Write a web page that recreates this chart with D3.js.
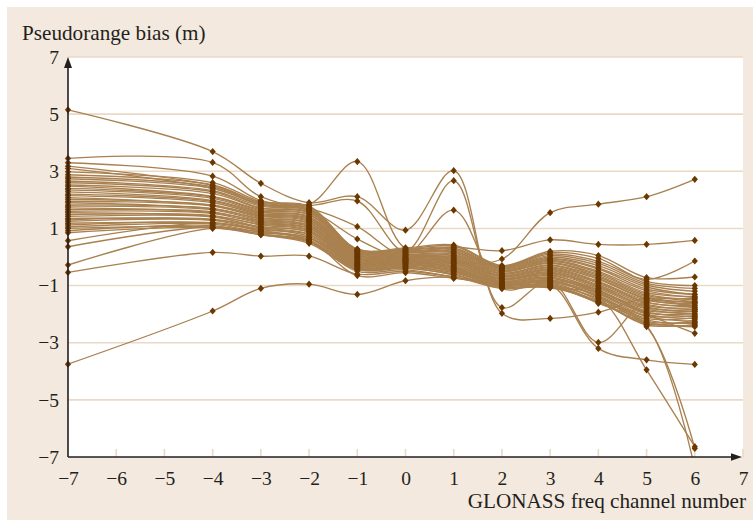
<!DOCTYPE html>
<html>
<head>
<meta charset="utf-8">
<script src="https://cdn.jsdelivr.net/npm/d3@7"></script>
<style>
  body { margin: 0; background: #fff; }
  text { font-family: 'Liberation Serif', 'Times New Roman', serif; fill: #231f20; }
</style>
</head>
<body>
<div class="graph"></div>
<script>
// frequency channels where the receivers were measured
var channels = [-7, -4, -3, -2, -1, 0, 1, 2, 3, 4, 5, 6];
var xTicks = [-7, -6, -5, -4, -3, -2, -1, 0, 1, 2, 3, 4, 5, 6, 7];
var yTicks = [-7, -5, -3, -1, 1, 3, 5, 7];
var gridValues = [-5, -3, -1, 1, 3, 5, 7];

// bias per receiver (m), one row per receiver, one value per channel
var bandSeries = [
  [0.85, 1.02, 0.78, 0.52, -0.44, -0.38, -0.62, -1.05, -1.02, -1.55, -2.38, -2.36],
  [0.92, 1.10, 0.80, 0.58, -0.40, -0.36, -0.55, -1.02, -0.95, -1.58, -2.30, -2.40],
  [1.00, 1.05, 0.88, 0.60, -0.42, -0.30, -0.60, -1.08, -0.98, -1.45, -2.25, -2.28],
  [1.05, 1.15, 0.85, 0.68, -0.35, -0.33, -0.50, -0.98, -0.90, -1.50, -2.35, -2.20],
  [1.12, 1.20, 0.92, 0.66, -0.38, -0.25, -0.52, -1.00, -0.85, -1.40, -2.20, -2.32],
  [1.18, 1.18, 0.98, 0.72, -0.30, -0.28, -0.45, -0.95, -0.88, -1.35, -2.15, -2.12],
  [1.25, 1.28, 0.96, 0.78, -0.33, -0.22, -0.48, -0.92, -0.80, -1.38, -2.08, -2.25],
  [1.30, 1.32, 1.02, 0.80, -0.28, -0.24, -0.40, -0.94, -0.82, -1.30, -2.05, -2.05],
  [1.35, 1.30, 1.06, 0.86, -0.25, -0.18, -0.42, -0.88, -0.75, -1.25, -2.00, -2.15],
  [1.42, 1.40, 1.05, 0.88, -0.27, -0.20, -0.36, -0.90, -0.72, -1.28, -1.95, -1.98],
  [1.48, 1.45, 1.12, 0.92, -0.22, -0.15, -0.38, -0.85, -0.70, -1.20, -1.92, -2.08],
  [1.55, 1.42, 1.15, 0.95, -0.20, -0.16, -0.32, -0.84, -0.65, -1.15, -1.88, -1.90],
  [1.60, 1.52, 1.18, 1.00, -0.18, -0.12, -0.30, -0.80, -0.62, -1.18, -1.82, -2.00],
  [1.66, 1.58, 1.22, 1.02, -0.15, -0.13, -0.26, -0.78, -0.58, -1.10, -1.78, -1.85],
  [1.72, 1.55, 1.25, 1.06, -0.14, -0.08, -0.24, -0.76, -0.55, -1.05, -1.75, -1.92],
  [1.78, 1.65, 1.28, 1.10, -0.10, -0.10, -0.20, -0.74, -0.52, -1.02, -1.70, -1.78],
  [1.82, 1.70, 1.32, 1.12, -0.08, -0.05, -0.18, -0.70, -0.48, -0.98, -1.65, -1.85],
  [1.90, 1.68, 1.35, 1.18, -0.06, -0.06, -0.14, -0.68, -0.45, -0.92, -1.60, -1.70],
  [1.95, 1.78, 1.38, 1.20, -0.03, -0.02, -0.12, -0.66, -0.42, -0.88, -1.58, -1.75],
  [2.02, 1.82, 1.42, 1.24, -0.02, -0.03, -0.08, -0.64, -0.38, -0.85, -1.52, -1.62],
  [2.08, 1.80, 1.45, 1.28, 0.02, 0.01, -0.06, -0.60, -0.35, -0.78, -1.48, -1.68],
  [2.15, 1.90, 1.48, 1.32, 0.03, 0.00, -0.02, -0.58, -0.30, -0.75, -1.45, -1.55],
  [2.20, 1.95, 1.52, 1.35, 0.06, 0.05, 0.00, -0.56, -0.28, -0.70, -1.40, -1.60],
  [2.28, 1.98, 1.56, 1.40, 0.08, 0.04, 0.04, -0.52, -0.22, -0.65, -1.35, -1.45],
  [2.35, 2.05, 1.58, 1.42, 0.10, 0.08, 0.06, -0.50, -0.20, -0.60, -1.30, -1.50],
  [2.40, 2.10, 1.62, 1.48, 0.13, 0.10, 0.10, -0.48, -0.15, -0.55, -1.25, -1.38],
  [2.48, 2.12, 1.66, 1.50, 0.15, 0.14, 0.14, -0.45, -0.12, -0.50, -1.18, -1.42],
  [2.52, 2.22, 1.70, 1.55, 0.17, 0.15, 0.18, -0.42, -0.08, -0.42, -1.12, -1.30],
  [2.60, 2.28, 1.72, 1.58, 0.19, 0.18, 0.20, -0.40, -0.05, -0.38, -1.05, -1.32],
  [2.66, 2.32, 1.78, 1.62, 0.21, 0.20, 0.25, -0.38, 0.00, -0.30, -0.98, -1.20],
  [2.74, 2.40, 1.82, 1.66, 0.23, 0.24, 0.28, -0.36, 0.05, -0.22, -0.92, -1.10],
  [2.80, 2.45, 1.85, 1.70, 0.25, 0.26, 0.32, -0.34, 0.10, -0.15, -0.85, -1.00],
  [2.88, 2.52, 1.90, 1.75, 0.27, 0.28, 0.38, -0.32, 0.15, -0.05, -0.78, -0.14],
  [2.98, 2.60, 1.94, 1.78, 0.28, 0.32, 0.42, -0.30, 0.20, 0.05, -0.72, -0.70]
];

var outlierSeries = [
  [5.15, 3.69, 2.58, 1.90, 2.11, 0.94, 3.02, -1.97, -2.15, -1.93, -1.45, -1.58],
  [3.45, 3.31, 2.11, 1.85, 3.34, 0.30, 0.35, 0.22, 0.60, 0.44, 0.44, 0.58],
  [3.30, 2.83, 1.98, 1.80, 1.96, 0.20, 2.67, -1.77, -0.85, -2.99, -1.55, -1.80],
  [3.18, 2.50, 1.90, 1.70, 1.06, 0.10, 1.64, -1.10, -0.95, -3.20, -3.60, -3.76],
  [3.10, 2.40, 1.85, 1.65, 0.63, -0.10, -0.20, -0.07, 1.55, 1.85, 2.11, 2.72],
  [0.57, 1.20, 0.90, 0.60, -0.65, -0.55, -0.75, -0.95, -1.05, -1.40, -3.95, -6.64],
  [0.36, 1.05, 0.80, 0.55, -0.50, -0.45, -0.70, -1.00, -1.00, -1.62, -2.44, -6.70],
  [-0.28, 1.00, 0.78, 0.48, -0.45, -0.40, -0.62, -1.05, -1.08, -1.55, -2.40, -7.40],
  [-0.54, 0.16, 0.03, 0.03, -0.60, -0.50, -0.70, -0.95, -0.80, -1.20, -2.00, -2.67],
  [-3.75, -1.89, -1.10, -0.95, -1.31, -0.83, -0.72, -1.10, -1.05, -1.60, -2.30, -2.44]
];

var allSeries = bandSeries.concat(outlierSeries);

var width = 753,
    height = 520;
var plotLeft = 68, plotRight = 743, plotTop = 57, plotBottom = 457;

var svg = d3.select('.graph')
  .append('svg')
  .attr('width', width)
  .attr('height', height)
  .style('display', 'block');

svg.append('rect')
  .attr('x', 7).attr('y', 7)
  .attr('width', width - 7).attr('height', height - 7)
  .style('fill', '#f4e9df');

svg.append('rect')
  .attr('x', plotLeft).attr('y', plotTop)
  .attr('width', plotRight - plotLeft).attr('height', plotBottom - plotTop)
  .style('fill', '#fff');

var xScale = d3.scaleLinear().domain([-7, 7]).range([plotLeft, plotRight]);
var yScale = d3.scaleLinear().domain([-7, 7]).range([plotBottom, plotTop]);

// grid
svg.append('g')
  .selectAll('line')
  .data(gridValues)
  .enter()
  .append('line')
  .attr('x1', plotLeft).attr('x2', plotRight)
  .attr('y1', d => yScale(d)).attr('y2', d => yScale(d))
  .style('stroke', '#ead9c6')
  .style('stroke-width', 1.6);

// little ticks standing on the x axis
svg.append('g')
  .selectAll('line')
  .data(xTicks.slice(1))
  .enter()
  .append('line')
  .attr('x1', d => xScale(d)).attr('x2', d => xScale(d))
  .attr('y1', plotBottom).attr('y2', plotBottom - 8)
  .style('stroke', '#ead9c6')
  .style('stroke-width', 1.6);

svg.append('clipPath')
  .attr('id', 'plot-clip')
  .append('rect')
  .attr('x', plotLeft - 5).attr('y', plotTop - 5)
  .attr('width', plotRight - plotLeft + 10).attr('height', plotBottom - plotTop + 5);

var plot = svg.append('g').attr('clip-path', 'url(#plot-clip)');

var line = d3.line()
  .x((d, i) => xScale(channels[i]))
  .y(d => yScale(d))
  .curve(d3.curveCatmullRom.alpha(0.5));

plot.append('g')
  .selectAll('path')
  .data(allSeries)
  .enter()
  .append('path')
  .attr('d', line)
  .style('fill', 'none')
  .style('stroke', '#a9804f')
  .style('stroke-width', 1.35);

var points = [];
allSeries.forEach(s => s.forEach((v, i) => points.push([channels[i], v])));

plot.append('g')
  .selectAll('path')
  .data(points)
  .enter()
  .append('path')
  .attr('d', 'M0,-3.6L3.1,0L0,3.6L-3.1,0Z')
  .attr('transform', d => 'translate(' + xScale(d[0]) + ',' + yScale(d[1]) + ')')
  .style('fill', '#6b3800');

// axes
var xAxis = d3.axisBottom(xScale)
  .tickValues(xTicks)
  .tickSize(0)
  .tickPadding(14)
  .tickFormat(d => d < 0 ? '\u2212' + Math.abs(d) : d);

var xAxisGroup = svg.append('g')
  .attr('id', 'x-axis')
  .attr('transform', 'translate(0,' + plotBottom + ')')
  .call(xAxis);
xAxisGroup.select('.domain').remove();
xAxisGroup.selectAll('text')
  .style('font-size', '19.5px')
  .style('font-family', "'Liberation Serif', serif")
  .style('fill', '#231f20');

var yAxis = d3.axisLeft(yScale)
  .tickValues(yTicks)
  .tickSize(0)
  .tickPadding(9)
  .tickFormat(d => d < 0 ? '\u2212' + Math.abs(d) : d);

var yAxisGroup = svg.append('g')
  .attr('id', 'y-axis')
  .attr('transform', 'translate(' + plotLeft + ',0)')
  .call(yAxis);
yAxisGroup.select('.domain').remove();
yAxisGroup.selectAll('text')
  .style('font-size', '19.5px')
  .style('font-family', "'Liberation Serif', serif")
  .style('fill', '#231f20');

svg.append('line')
  .attr('x1', plotLeft).attr('x2', plotRight - 8)
  .attr('y1', plotBottom).attr('y2', plotBottom)
  .style('stroke', '#231f20').style('stroke-width', 1.6);
svg.append('path')
  .attr('d', 'M' + (plotRight - 1) + ',' + plotBottom + 'l-11,-3.8l0,7.6Z')
  .style('fill', '#231f20');

svg.append('line')
  .attr('x1', plotLeft).attr('x2', plotLeft)
  .attr('y1', plotBottom).attr('y2', plotTop + 8)
  .style('stroke', '#231f20').style('stroke-width', 1.6);
svg.append('path')
  .attr('d', 'M' + plotLeft + ',' + plotTop + 'l-4,11l8,0Z')
  .style('fill', '#231f20');

svg.append('text')
  .text('Pseudorange bias (m)')
  .attr('x', 22)
  .attr('y', 39.5)
  .style('font-size', '21.2px');

svg.append('text')
  .text('GLONASS freq channel number')
  .attr('x', 746)
  .attr('y', 508)
  .attr('text-anchor', 'end')
  .style('font-size', '21.2px');
</script>
</body>
</html>
